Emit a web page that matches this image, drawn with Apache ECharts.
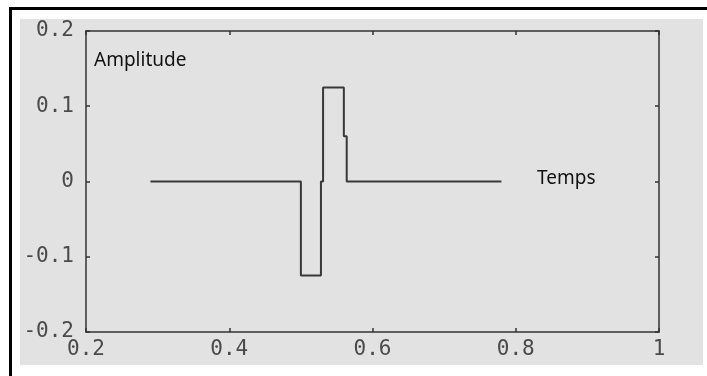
<!DOCTYPE html>
<html>
<head>
<meta charset="utf-8">
<script src="https://cdn.jsdelivr.net/npm/echarts@6/dist/echarts.min.js"></script>
<style>
  html, body { margin: 0; padding: 0; background: #fff; }
  #frame {
    position: absolute; left: 9px; top: 7px; width: 698px; height: 369px;
    border-top: 3px solid #000; border-left: 3px solid #000; box-sizing: border-box;
  }
  #panel { position: absolute; left: 20px; top: 19px; width: 683px; height: 346px; background: #e2e2e2; }
  #chart { position: absolute; left: 0; top: 0; width: 707px; height: 376px; }
</style>
</head>
<body>
<div id="frame"></div>
<div id="panel"></div>
<div id="chart"></div>
<script>
// signal samples (time, amplitude)
const times = [0.29, 0.5, 0.5, 0.528, 0.528, 0.531, 0.531, 0.56, 0.56, 0.564, 0.564, 0.78]
const amplitudes = [0, 0, -0.125, -0.125, 0, 0, 0.125, 0.125, 0.06, 0.06, 0, 0]

const xTicks = [0.2, 0.4, 0.6, 0.8, 1]
const yTicks = [-0.2, -0.1, 0, 0.1, 0.2]

const chart = echarts.init(document.getElementById("chart"))

const axisColor = "#333"
const labelStyle = {
  color: "#4a4a4a",
  fontFamily: "DejaVu Sans Mono",
  fontSize: 21,
}

function fmt(v) {
  return String(Math.round(v * 10) / 10)
}

const boxAxis = {
  axisLine: { show: true, onZero: false, lineStyle: { color: axisColor, width: 1.5 } },
  axisTick: { show: true, inside: true, length: 4, lineStyle: { color: axisColor, width: 1.5 } },
  splitLine: { show: false },
}

const option = {
  animation: false,
  grid: { left: 86, top: 31, right: 48, bottom: 44 },
  xAxis: [
    {
      type: "value",
      min: xTicks[0],
      max: xTicks[xTicks.length - 1],
      interval: 0.2,
      ...boxAxis,
      axisLabel: { ...labelStyle, margin: 7, formatter: fmt },
    },
    {
      type: "value",
      position: "top",
      min: xTicks[0],
      max: xTicks[xTicks.length - 1],
      interval: 0.2,
      ...boxAxis,
      axisLabel: { show: false },
    },
  ],
  yAxis: [
    {
      type: "value",
      min: yTicks[0],
      max: yTicks[yTicks.length - 1],
      interval: 0.1,
      ...boxAxis,
      axisLabel: { ...labelStyle, margin: 12, formatter: fmt },
    },
    {
      type: "value",
      position: "right",
      min: yTicks[0],
      max: yTicks[yTicks.length - 1],
      interval: 0.1,
      ...boxAxis,
      axisLabel: { show: false },
    },
  ],
  graphic: [
    {
      type: "text",
      left: 94,
      top: 51,
      style: { text: "Amplitude", fill: "#111", font: '19px "Noto Sans"' },
    },
    {
      type: "text",
      left: 537,
      top: 169,
      style: { text: "Temps", fill: "#111", font: '19px "Noto Sans"' },
    },
  ],
  series: [
    {
      type: "line",
      data: times.map((t, i) => [t, amplitudes[i]]),
      showSymbol: false,
      lineStyle: { color: "#383838", width: 2 },
    },
  ],
}

chart.setOption(option)
</script>
</body>
</html>
